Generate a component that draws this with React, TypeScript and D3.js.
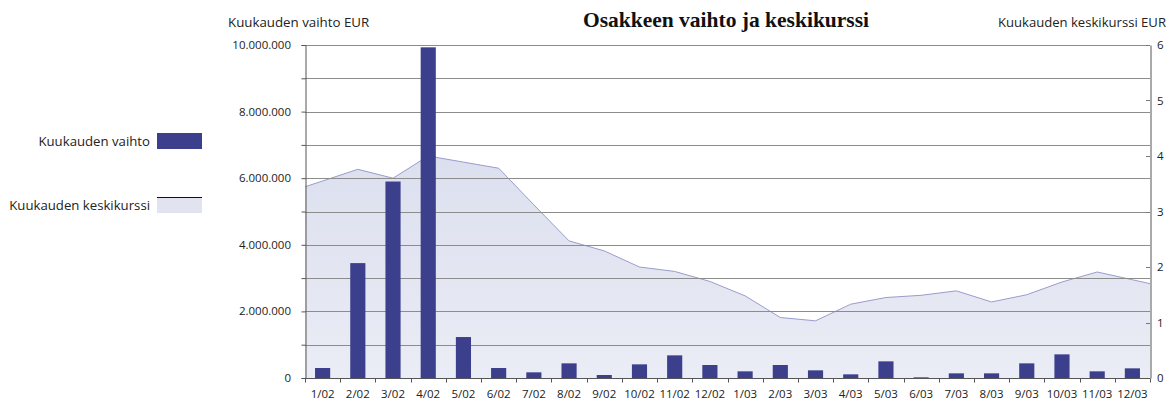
import React, { useEffect, useRef } from 'react';
import * as d3 from 'd3';

const months = [
  '1/02', '2/02', '3/02', '4/02', '5/02', '6/02', '7/02', '8/02', '9/02', '10/02', '11/02', '12/02',
  '1/03', '2/03', '3/03', '4/03', '5/03', '6/03', '7/03', '8/03', '9/03', '10/03', '11/03', '12/03',
];

// monthly turnover, EUR
const turnover = [
  300000, 3450000, 5900000, 9930000, 1230000, 300000, 170000, 440000, 90000, 410000, 680000, 390000,
  200000, 390000, 230000, 110000, 500000, 20000, 140000, 140000, 440000, 710000, 200000, 290000,
];

// monthly average price, EUR
const avgPrice = [
  3.55, 3.76, 3.6, 4.0, 3.89, 3.78, 3.12, 2.47, 2.29, 2.0, 1.92, 1.74,
  1.48, 1.09, 1.03, 1.33, 1.45, 1.49, 1.57, 1.37, 1.5, 1.73, 1.91, 1.77,
];

const leftTicks = [0, 2000000, 4000000, 6000000, 8000000, 10000000];
const rightTicks = [0, 1, 2, 3, 4, 5, 6];

const BAR_COLOR = '#3b3f8c';
const LINE_COLOR = '#9a9ccc';
const GRID_COLOR = '#8c8c8c';
const FONT = '"Open Sans", "Noto Sans", sans-serif';

const W = 1173;
const H = 404;
const M = { left: 305, right: 1150, top: 45, bottom: 378 };

const fmtEur = (v: number) => d3.format(',')(v).replace(/,/g, '.');

const App: React.FC = () => {
  const svgRef = useRef<SVGSVGElement>(null);

  useEffect(() => {
    if (!svgRef.current) return;
    const svg = d3.select(svgRef.current);
    svg.selectAll('*').remove();

    const x = d3.scaleBand<string>().domain(months).range([M.left, M.right]).padding(0);
    const yL = d3.scaleLinear().domain([0, 10000000]).range([M.bottom, M.top]);
    const yR = d3.scaleLinear().domain([0, 6]).range([M.bottom, M.top]);
    const cx = (m: string) => (x(m) as number) + x.bandwidth() / 2;

    const defs = svg.append('defs');
    const grad = defs
      .append('linearGradient')
      .attr('id', 'areaGrad')
      .attr('x1', 0).attr('y1', 0).attr('x2', 0).attr('y2', 1);
    grad.append('stop').attr('offset', '0%').attr('stop-color', '#dcdfee');
    grad.append('stop').attr('offset', '100%').attr('stop-color', '#eaedf5');

    // area: points at band centres, extended to the plot edges
    const pts: Array<[number, number]> = months.map((m, i) => [cx(m), avgPrice[i]]);
    const n = pts.length;
    const first: [number, number] = [M.left, pts[0][1] - (pts[1][1] - pts[0][1]) / 2];
    const last: [number, number] = [M.right, pts[n - 1][1] + (pts[n - 1][1] - pts[n - 2][1]) / 2];
    const all = [first, ...pts, last];

    const area = d3
      .area<[number, number]>()
      .x((d) => d[0])
      .y0(M.bottom)
      .y1((d) => yR(d[1]));
    const line = d3
      .line<[number, number]>()
      .x((d) => d[0])
      .y((d) => yR(d[1]));

    svg.append('path').attr('d', area(all)).attr('fill', 'url(#areaGrad)');
    svg
      .append('path')
      .attr('d', line(all))
      .attr('fill', 'none')
      .attr('stroke', LINE_COLOR)
      .attr('stroke-width', 1);

    // gridlines every 1M
    const grid = d3.range(1, 11).map((k) => k * 1000000);
    svg
      .selectAll('.grid')
      .data(grid)
      .enter()
      .append('line')
      .attr('class', 'grid')
      .attr('x1', M.left)
      .attr('x2', M.right)
      .attr('y1', (d) => Math.round(yL(d)) + 0.5)
      .attr('y2', (d) => Math.round(yL(d)) + 0.5)
      .attr('stroke', GRID_COLOR)
      .attr('stroke-width', 1);

    // bars
    const bw = x.bandwidth() * 0.43;
    svg
      .selectAll('.bar')
      .data(months)
      .enter()
      .append('rect')
      .attr('class', 'bar')
      .attr('x', (m) => cx(m) - bw / 2)
      .attr('width', bw)
      .attr('y', (_, i) => yL(turnover[i]))
      .attr('height', (_, i) => M.bottom - yL(turnover[i]))
      .attr('fill', BAR_COLOR);

    // left axis
    const axL = svg.append('g').attr('transform', `translate(${M.left + 0.5},0)`);
    axL
      .call(
        d3.axisLeft(yL).tickValues(d3.range(0, 11).map((k) => k * 1000000)).tickSize(4).tickFormat(() => ''),
      )
      .call((g) => g.select('.domain').attr('stroke', '#555'))
      .call((g) => g.selectAll('.tick line').attr('stroke', '#555'));
    svg
      .selectAll('.ltick')
      .data(leftTicks)
      .enter()
      .append('text')
      .attr('x', 291)
      .attr('y', (d) => yL(d) + 4)
      .attr('text-anchor', 'end')
      .attr('font-family', FONT)
      .attr('font-size', 11.5)
      .attr('fill', '#222')
      .text((d) => fmtEur(d));

    // right axis
    const axR = svg.append('g').attr('transform', `translate(${M.right + 0.5},0)`);
    axR
      .call(d3.axisRight(yR).tickValues(rightTicks).tickSize(0).tickFormat(() => ''))
      .call((g) => g.select('.domain').attr('stroke', '#555'));
    svg
      .selectAll('.rtickmark')
      .data(rightTicks)
      .enter()
      .append('line')
      .attr('x1', M.right - 4)
      .attr('x2', M.right)
      .attr('y1', (d) => Math.round(yR(d)) + 0.5)
      .attr('y2', (d) => Math.round(yR(d)) + 0.5)
      .attr('stroke', '#777');
    svg
      .selectAll('.rtick')
      .data(rightTicks)
      .enter()
      .append('text')
      .attr('x', 1157)
      .attr('y', (d) => yR(d) + 4)
      .attr('font-family', FONT)
      .attr('font-size', 11.5)
      .attr('fill', '#222')
      .text((d) => String(d));

    // bottom axis
    const axB = svg.append('g').attr('transform', `translate(0,${M.bottom + 0.5})`);
    axB.append('line').attr('x1', M.left).attr('x2', M.right).attr('stroke', '#555');
    axB
      .selectAll('.btick')
      .data(d3.range(0, months.length + 1))
      .enter()
      .append('line')
      .attr('x1', (i) => Math.round(M.left + i * x.step()) + 0.5)
      .attr('x2', (i) => Math.round(M.left + i * x.step()) + 0.5)
      .attr('y1', 0)
      .attr('y2', 4)
      .attr('stroke', '#555');
    svg
      .selectAll('.blabel')
      .data(months)
      .enter()
      .append('text')
      .attr('x', (m) => cx(m))
      .attr('y', 398)
      .attr('text-anchor', 'middle')
      .attr('font-family', FONT)
      .attr('font-size', 11.5)
      .attr('fill', '#222')
      .text((m) => m);

    // titles
    svg
      .append('text')
      .attr('x', 726)
      .attr('y', 27)
      .attr('text-anchor', 'middle')
      .attr('font-family', '"Liberation Serif", "DejaVu Serif", serif')
      .attr('font-weight', 'bold')
      .attr('font-size', 21.5)
      .attr('fill', '#111')
      .text('Osakkeen vaihto ja keskikurssi');
    svg
      .append('text')
      .attr('x', 228)
      .attr('y', 27)
      .attr('font-family', FONT)
      .attr('font-size', 13.3)
      .attr('fill', '#222')
      .text('Kuukauden vaihto EUR');
    svg
      .append('text')
      .attr('x', 1166)
      .attr('y', 27)
      .attr('text-anchor', 'end')
      .attr('font-family', FONT)
      .attr('font-size', 13.1)
      .attr('fill', '#222')
      .text('Kuukauden keskikurssi EUR');

    // legend
    const lg = svg.append('g');
    lg.append('text')
      .attr('x', 150)
      .attr('y', 146)
      .attr('text-anchor', 'end')
      .attr('font-family', FONT)
      .attr('font-size', 13.2)
      .attr('fill', '#222')
      .text('Kuukauden vaihto');
    lg.append('rect').attr('x', 157).attr('y', 133).attr('width', 45).attr('height', 16).attr('fill', BAR_COLOR);
    lg.append('text')
      .attr('x', 150)
      .attr('y', 210)
      .attr('text-anchor', 'end')
      .attr('font-family', FONT)
      .attr('font-size', 13.2)
      .attr('fill', '#222')
      .text('Kuukauden keskikurssi');
    lg.append('rect').attr('x', 157).attr('y', 197).attr('width', 45).attr('height', 16).attr('fill', '#e1e4f0');
    lg.append('line').attr('x1', 157).attr('x2', 202).attr('y1', 197.5).attr('y2', 197.5).attr('stroke', '#111');
  }, []);

  return (
    <svg
      ref={svgRef}
      width={W}
      height={H}
      style={{ position: 'absolute', top: 0, left: 0, background: '#fff' }}
    />
  );
};

export default App;
